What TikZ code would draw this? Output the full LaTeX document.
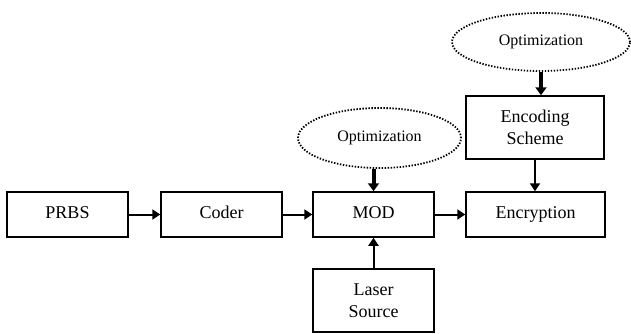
\documentclass[tikz,border=0pt]{standalone}
\usepackage{fontspec}
\setmainfont{Liberation Serif}
\usetikzlibrary{positioning,arrows.meta,shapes.geometric}

\tikzset{
  blockbox/.style={draw,line width=1.5pt,minimum width=121pt,minimum height=45pt,inner sep=0pt,align=center,font=\fontsize{18}{21.5}\selectfont},
  oneline/.style={text height=12pt,text depth=4pt},
  optcloud/.style={ellipse,draw,line width=1.8pt,dash pattern=on 1.4pt off 1.6pt,inner sep=0pt,text height=11pt,text depth=3.5pt,font=\fontsize{16}{19}\selectfont},
  link/.style={line width=2pt,-{Triangle[length=8pt,width=10pt]}},
  boldlink/.style={line width=4pt,-{Triangle[length=8pt,width=11pt]}},
}

\begin{document}
\begin{tikzpicture}[x=1pt,y=1pt]
  \useasboundingbox (0,0) rectangle (631,333);
  % main chain
  \node[blockbox,oneline] (prbs) at (67.5,118.5) {PRBS};
  \node[blockbox,oneline] (coder) at (221.5,118.5) {Coder};
  \node[blockbox,oneline] (mod) at (373.5,118.5) {MOD};
  \node[blockbox,oneline,minimum width=139pt] (encr) at (535.5,118.5) {Encryption};
  \node[blockbox,minimum height=63pt] (laser) at (373.5,32.5) {Laser\\Source};
  \node[blockbox,minimum width=138pt,minimum height=63pt] (encs) at (535,205.5) {Encoding\\Scheme};
  % optimization
  \node[optcloud,minimum width=163pt,minimum height=60pt] (optmod) at (379.5,195) {Optimization};
  \node[optcloud,minimum width=178pt,minimum height=58pt] (optenc) at (541,291) {Optimization};

  \draw[link] (prbs) -- (coder);
  \draw[link] (coder) -- (mod);
  \draw[link] (mod) -- (encr);
  \draw[link] (laser) -- (mod);
  \draw[link] (encs.south) -- (encs.south |- encr.north);
  \draw[boldlink] (optmod.south -| mod.north) -- (mod.north);
  \draw[boldlink] (optenc.south) -- (optenc.south |- encs.north);
\end{tikzpicture}
\end{document}
